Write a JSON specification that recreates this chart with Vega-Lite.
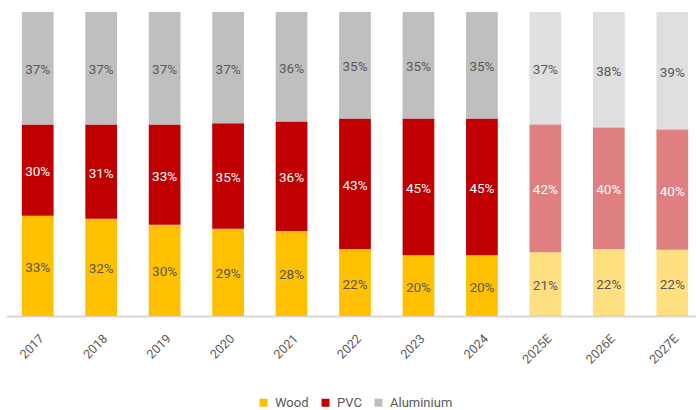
{
  "$schema": "https://vega.github.io/schema/vega-lite/v6.json",
  "autosize": "none",
  "width": 698,
  "height": 304,
  "padding": {"left": 6, "top": 12, "right": 0, "bottom": 94},
  "background": "white",
  "config": {
    "view": {"stroke": null},
    "font": "Roboto",
    "text": {"font": "Roboto"},
    "legend": {"layout": {"bottom": {"anchor": "middle"}}}
  },
  "data": {
    "values": [
      {"year": "2017", "type": "Wood", "value": 0.33}, {"year": "2017", "type": "PVC", "value": 0.30}, {"year": "2017", "type": "Aluminium", "value": 0.37},
      {"year": "2018", "type": "Wood", "value": 0.32}, {"year": "2018", "type": "PVC", "value": 0.31}, {"year": "2018", "type": "Aluminium", "value": 0.37},
      {"year": "2019", "type": "Wood", "value": 0.30}, {"year": "2019", "type": "PVC", "value": 0.33}, {"year": "2019", "type": "Aluminium", "value": 0.37},
      {"year": "2020", "type": "Wood", "value": 0.29}, {"year": "2020", "type": "PVC", "value": 0.35}, {"year": "2020", "type": "Aluminium", "value": 0.37},
      {"year": "2021", "type": "Wood", "value": 0.28}, {"year": "2021", "type": "PVC", "value": 0.36}, {"year": "2021", "type": "Aluminium", "value": 0.36},
      {"year": "2022", "type": "Wood", "value": 0.22}, {"year": "2022", "type": "PVC", "value": 0.43}, {"year": "2022", "type": "Aluminium", "value": 0.35},
      {"year": "2023", "type": "Wood", "value": 0.20}, {"year": "2023", "type": "PVC", "value": 0.45}, {"year": "2023", "type": "Aluminium", "value": 0.35},
      {"year": "2024", "type": "Wood", "value": 0.20}, {"year": "2024", "type": "PVC", "value": 0.45}, {"year": "2024", "type": "Aluminium", "value": 0.35},
      {"year": "2025E", "type": "Wood", "value": 0.21}, {"year": "2025E", "type": "PVC", "value": 0.42}, {"year": "2025E", "type": "Aluminium", "value": 0.37},
      {"year": "2026E", "type": "Wood", "value": 0.22}, {"year": "2026E", "type": "PVC", "value": 0.40}, {"year": "2026E", "type": "Aluminium", "value": 0.38},
      {"year": "2027E", "type": "Wood", "value": 0.22}, {"year": "2027E", "type": "PVC", "value": 0.40}, {"year": "2027E", "type": "Aluminium", "value": 0.39}
    ]
  },
  "transform": [
    {"stack": "value", "groupby": ["year"], "offset": "normalize", "sort": [{"field": "type", "order": "descending"}], "as": ["y0", "y1"]},
    {"calculate": "(datum.y0 + datum.y1) / 2", "as": "mid"}
  ],
  "encoding": {
    "x": {
      "field": "year", "type": "nominal", "sort": null,
      "scale": {"paddingInner": 0.5, "paddingOuter": 0.25},
      "axis": {
        "title": null, "labelAngle": -45, "labelFontSize": 12.5, "labelColor": "#595959",
        "labelFont": "Roboto", "ticks": false, "domainColor": "#d9d9d9", "domainWidth": 2, "labelPadding": 16
      }
    }
  },
  "layer": [
    {
      "mark": {"type": "bar"},
      "encoding": {
        "y": {"field": "y0", "type": "quantitative", "scale": {"domain": [0, 1]}, "axis": null},
        "y2": {"field": "y1"},
        "color": {
          "field": "type", "type": "nominal",
          "scale": {"domain": ["Wood", "PVC", "Aluminium"], "range": ["#FFC000", "#C00000", "#BFBFBF"]},
          "legend": {
            "title": null, "orient": "bottom", "direction": "horizontal", "offset": 30,
            "symbolType": "square", "symbolSize": 64, "symbolStrokeWidth": 0, "labelFontSize": 13,
            "labelColor": "#595959", "labelFont": "Roboto", "columnPadding": 10, "labelOffset": 5, "padding": 0
          }
        },
        "opacity": {"condition": {"test": "indexof(datum.year, 'E') >= 0", "value": 0.5}, "value": 1}
      }
    },
    {
      "mark": {"type": "text", "fontSize": 13.5, "font": "Roboto", "baseline": "middle", "align": "center", "dy": 2},
      "encoding": {
        "y": {"field": "mid", "type": "quantitative", "scale": {"domain": [0, 1]}},
        "text": {"field": "value", "type": "quantitative", "format": ".0%"},
        "color": {"condition": {"test": "datum.type === 'PVC'", "value": "#FFFFFF"}, "value": "#595959"}
      }
    }
  ]
}
